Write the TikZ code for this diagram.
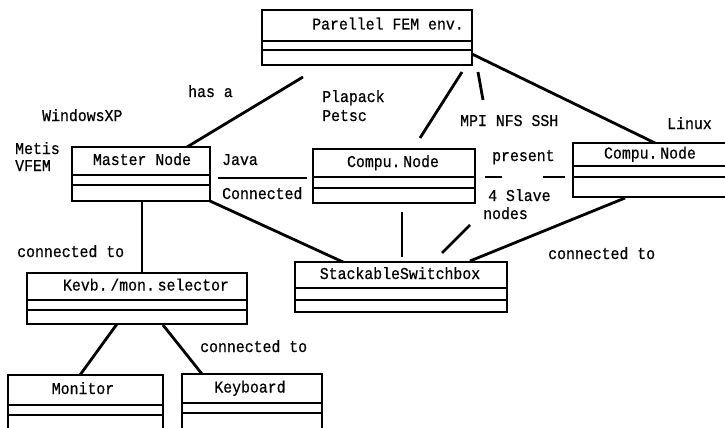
\documentclass[tikz,border=0pt]{standalone}
\usepackage{fontspec}
\setmainfont{Liberation Mono}[FakeStretch=0.9, FakeBold=0.6]
\begin{document}
\begin{tikzpicture}[x=1pt,y=-1pt,
  boxframe/.style={draw, line width=1.7pt, inner sep=0pt, outer sep=0pt, rectangle},
  sepline/.style={line width=1.4pt},
  conn/.style={line width=2.8pt},
  thinconn/.style={line width=2pt},
  lbl/.style={font=\fontsize{16.5}{18}\selectfont, inner sep=0pt, text height=10pt, text depth=2pt},
]
\useasboundingbox (0,0) rectangle (725,428);
\newcommand\umlbox[9]{%
  \node[boxframe, anchor=north west, minimum width={#4-#2}, minimum height={#7-#3}] (#1) at (#2,#3) {};
  \draw[sepline] (#2,#5) -- (#4,#5);
  \draw[sepline] (#2,#6) -- (#4,#6);
  \node[lbl] (#1-t) at ({#9},{(#3+#5)/2}) {#8};
}
% boxes
\umlbox{fem}{262}{10}{472}{41}{50}{65}{Parellel FEM env.}{388}
\umlbox{master}{72}{147}{210}{175}{185}{201}{Master Node}{142}
\umlbox{compa}{313}{149}{475}{177}{188}{203}{Compu.\,Node}{393}
\umlbox{compb}{573}{143}{728}{166}{177}{197}{Compu.\,Node}{650}
\umlbox{switch}{295}{262}{507}{288}{300}{312}{StackableSwitchbox}{400}
\umlbox{kvm}{27}{273}{247}{300}{310}{324}{Kevb.\,/mon.\,selector}{146}
\umlbox{mon}{8}{375}{163}{405}{415}{434}{Monitor}{83}
\umlbox{kbd}{182}{374}{322}{403}{413}{434}{Keyboard}{250}

% connector end points
\coordinate (c1a) at (303,77);  \coordinate (c1b) at (187,147);
\coordinate (c2a) at (462,72);  \coordinate (c2b) at (420,138);
\coordinate (c3a) at (478,72);  \coordinate (c3b) at (483,100);
\coordinate (c4a) at (472,54);  \coordinate (c4b) at (655,143);
\coordinate (c5a) at (218,178); \coordinate (c5b) at (307,178);
\coordinate (c6a) at (485,177); \coordinate (c6b) at (502,177);
\coordinate (c7a) at (543,177); \coordinate (c7b) at (565,177);
\coordinate (c8a) at (142,201); \coordinate (c8b) at (142,273);
\coordinate (c9a) at (210,201); \coordinate (c9b) at (343,262);
\coordinate (c10a) at (402,212); \coordinate (c10b) at (402,257);
\coordinate (c11a) at (470,225); \coordinate (c11b) at (442,253);
\coordinate (c12a) at (625,198); \coordinate (c12b) at (470,261);
\coordinate (c13a) at (117,324); \coordinate (c13b) at (80,375);
\coordinate (c14a) at (163,325); \coordinate (c14b) at (202,374);

\draw[conn] (c1a) -- (c1b);
\draw[conn] (c2a) -- (c2b);
\draw[conn] (c3a) -- (c3b);
\draw[conn] (c4a) -- (c4b);
\draw[conn] (c5a) -- (c5b);
\draw[thinconn] (c6a) -- (c6b);
\draw[thinconn] (c7a) -- (c7b);
\draw[thinconn] (c8a) -- (c8b);
\draw[conn] (c9a) -- (c9b);
\draw[conn] (c10a) -- (c10b);
\draw[conn] (c11a) -- (c11b);
\draw[conn] (c12a) -- (c12b);
\draw[conn] (c13a) -- (c13b);
\draw[conn] (c14a) -- (c14b);

% labels
\node[lbl, anchor=west] (l-hasa) at (188,93) {has a};
\node[lbl, anchor=west] (l-win) at (42,117) {WindowsXP};
\node[lbl, anchor=west] (l-metis) at (15,150) {Metis};
\node[lbl, anchor=west] (l-vfem) at (15,167) {VFEM};
\node[lbl, anchor=west] (l-java) at (222,161) {Java};
\node[lbl, anchor=west] (l-conn) at (222,195) {Connected};
\node[lbl, anchor=west] (l-plapack) at (322,98) {Plapack};
\node[lbl, anchor=west] (l-petsc) at (322,117) {Petsc};
\node[lbl, anchor=west] (l-mpi) at (460,122) {MPI NFS SSH};
\node[lbl, anchor=west] (l-present) at (492,157) {present};
\node[lbl, anchor=west] (l-slave) at (488,197) {4 Slave};
\node[lbl, anchor=west] (l-nodes) at (483,215) {nodes};
\node[lbl, anchor=west] (l-linux) at (667,125) {Linux};
\node[lbl, anchor=west] (l-ct1) at (548,255) {connected to};
\node[lbl, anchor=west] (l-ct2) at (17,253) {connected to};
\node[lbl, anchor=west] (l-ct3) at (200,348) {connected to};
\end{tikzpicture}
\end{document}
